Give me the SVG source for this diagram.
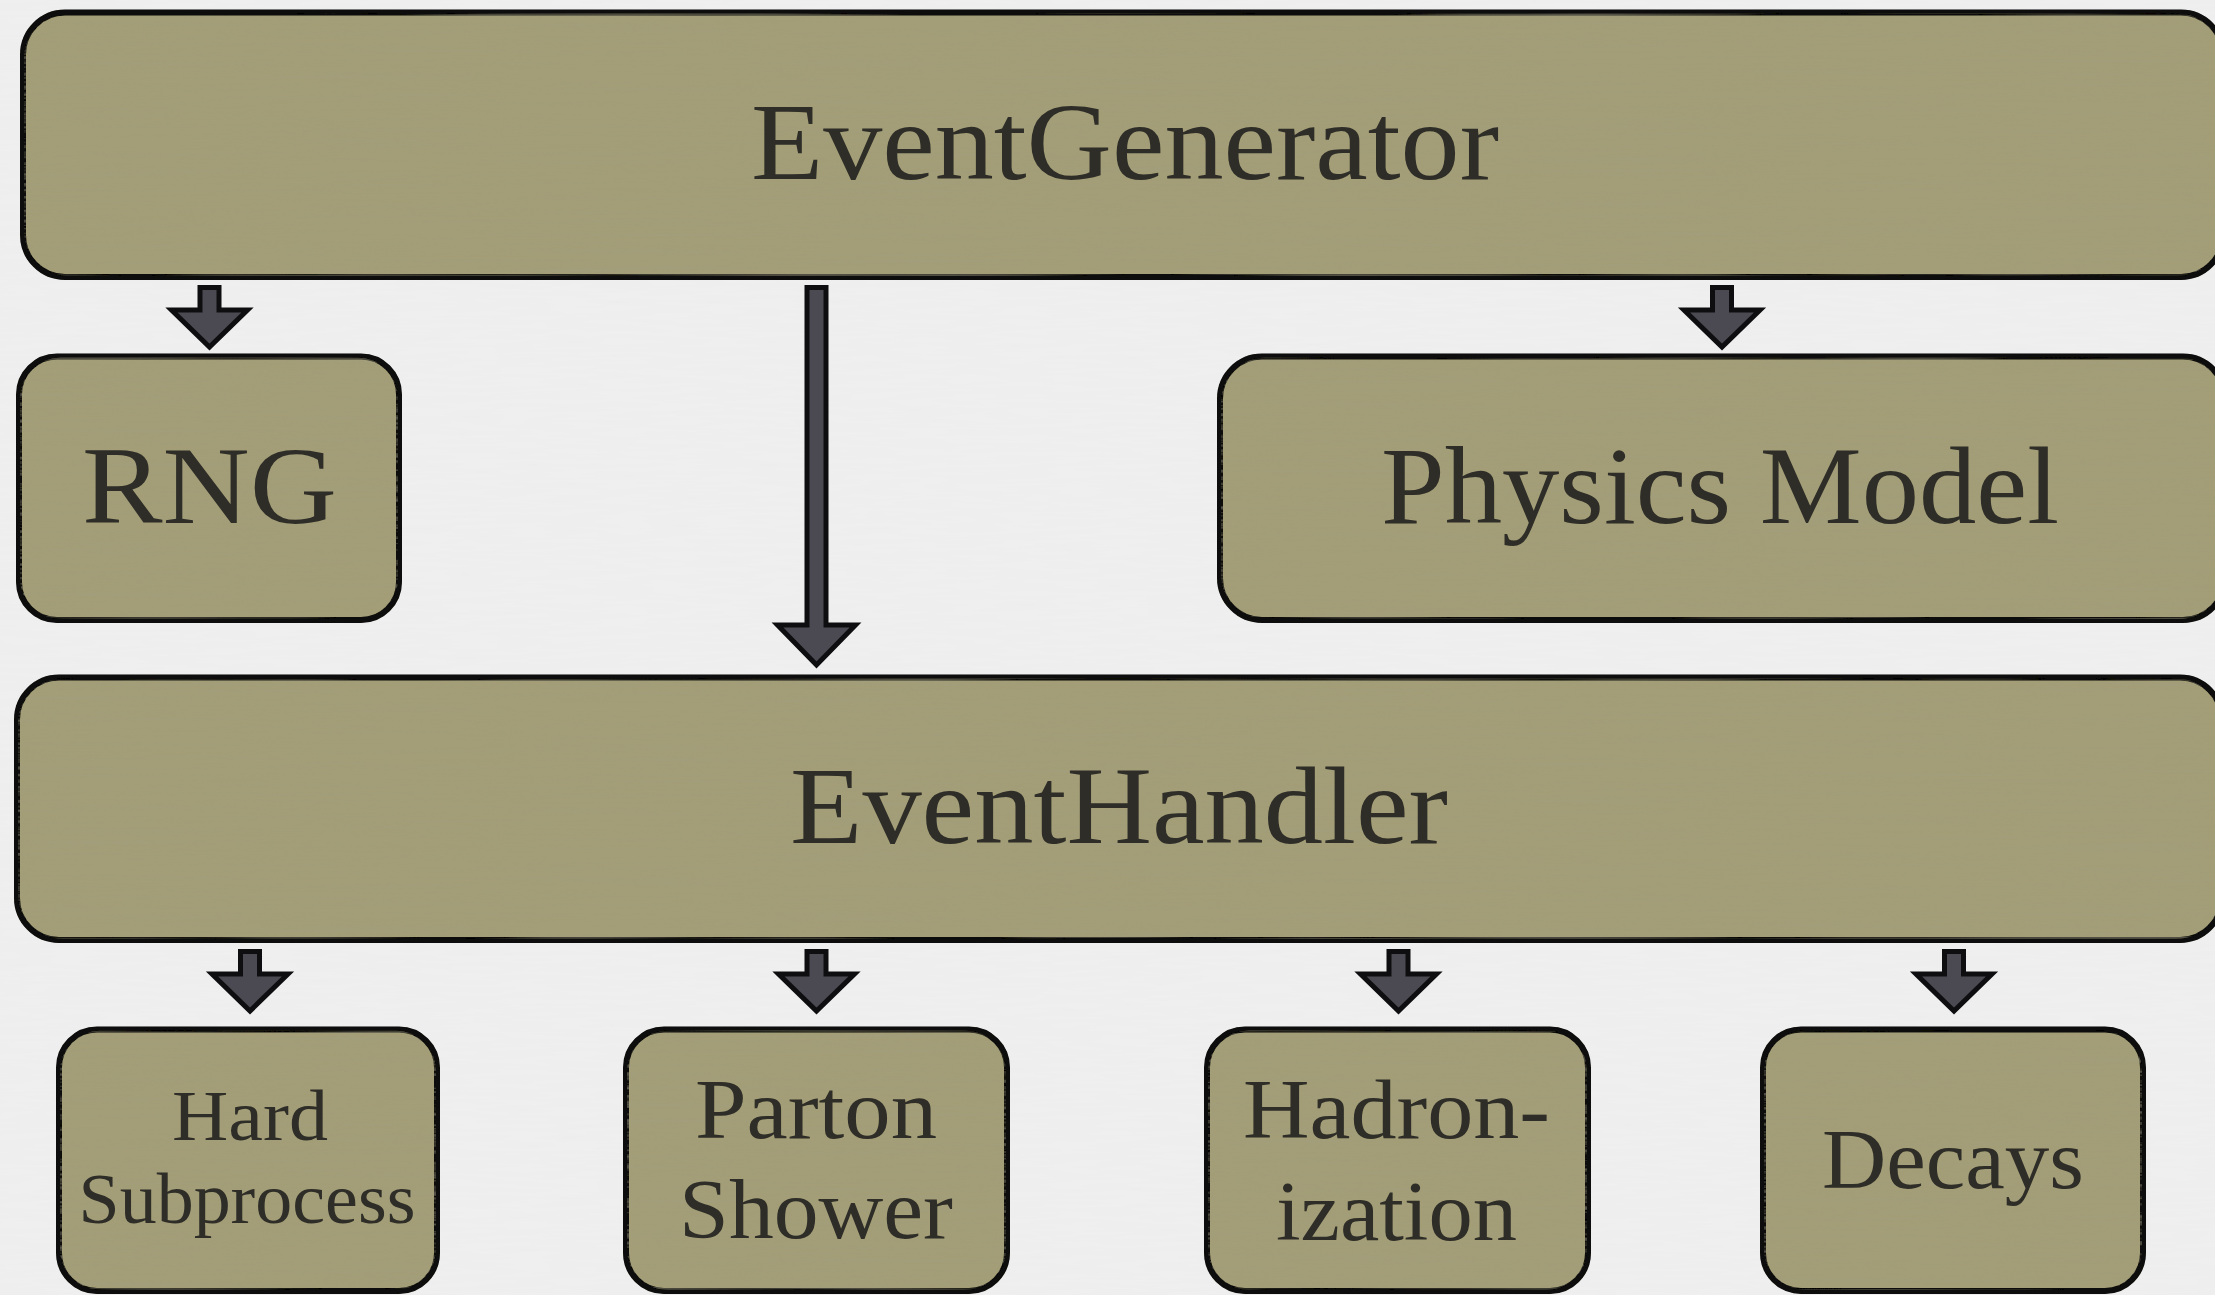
<svg xmlns="http://www.w3.org/2000/svg" xmlns:xlink="http://www.w3.org/1999/xlink" width="2215" height="1295" viewBox="0 0 2215 1295">
  <style>
    .box { fill: #a39e77; stroke: #080807; stroke-width: 6; filter: url(#brushed); }
    .label { font-family: "Liberation Serif", "DejaVu Serif", serif; fill: #2e2d27; text-anchor: middle; }
    .big { font-size: 110px; }
    .mid { font-size: 85px; }
    .small { font-size: 71px; }
    .arrow { fill: #4b4a52; stroke: #0e0e10; stroke-width: 5; stroke-linejoin: miter; }
  </style>
  <defs>
    <!-- faint horizontal streaks over the box fill, kept off the outline -->
    <filter id="brushed" filterUnits="userSpaceOnUse" x="-20" y="-20" width="2260" height="1340">
      <feTurbulence type="fractalNoise" baseFrequency="0.004 0.3" numOctaves="2" seed="4" result="n"/>
      <feColorMatrix in="n" type="matrix" values="0 0 0 0 0.36  0 0 0 0 0.34  0 0 0 0 0.24  0.7 0 0 0 -0.3" result="tint"/>
      <feMorphology in="SourceAlpha" operator="erode" radius="4" result="inner"/>
      <feComposite in="tint" in2="inner" operator="in" result="t"/>
      <feMerge><feMergeNode in="SourceGraphic"/><feMergeNode in="t"/></feMerge>
    </filter>
    <!-- paper grain for the page -->
    <filter id="paper" x="0" y="0" width="100%" height="100%">
      <feTurbulence type="fractalNoise" baseFrequency="0.02 0.25" numOctaves="2" seed="9" result="n"/>
      <feColorMatrix in="n" type="matrix" values="0 0 0 0 0.8  0 0 0 0 0.8  0 0 0 0 0.8  0.6 0 0 0 -0.25" result="g"/>
      <feMerge><feMergeNode in="SourceGraphic"/><feMergeNode in="g"/></feMerge>
    </filter>
    <!-- short block arrow, origin at top centre of the shaft -->
    <path id="shortArrow" class="arrow" d="M -9.5,2.5 H 9.5 V 25 H 38 L 0,62 L -38,25 H -9.5 Z"/>
  </defs>

  <rect x="0" y="0" width="2215" height="1295" fill="#efefef" filter="url(#paper)"/>

  <g id="connectors">
    <use xlink:href="#shortArrow" transform="translate(209.5,285)"/>
    <path class="arrow" d="M -9.5,2.5 H 9.5 V 340 H 39 L 0,380 L -39,340 H -9.5 Z" transform="translate(816.5,285)"/>
    <use xlink:href="#shortArrow" transform="translate(1722,285)"/>
    <use xlink:href="#shortArrow" transform="translate(250,949)"/>
    <use xlink:href="#shortArrow" transform="translate(816.5,949)"/>
    <use xlink:href="#shortArrow" transform="translate(1398.5,949)"/>
    <use xlink:href="#shortArrow" transform="translate(1954,949)"/>
  </g>

  <g id="event-generator">
    <rect class="box" x="23" y="12.5" width="2200" height="264.5" rx="42" ry="42"/>
    <text class="label big" x="1125" y="179" textLength="748" lengthAdjust="spacingAndGlyphs">EventGenerator</text>
  </g>

  <g id="rng">
    <rect class="box" x="19" y="356.5" width="380" height="263.5" rx="38" ry="38"/>
    <text class="label big" x="209.5" y="523" textLength="255" lengthAdjust="spacingAndGlyphs">RNG</text>
  </g>

  <g id="physics-model">
    <rect class="box" x="1220" y="356.5" width="1005" height="263.5" rx="42" ry="42"/>
    <text class="label big" x="1720" y="523" textLength="678" lengthAdjust="spacingAndGlyphs">Physics Model</text>
  </g>

  <g id="event-handler">
    <rect class="box" x="17" y="677.5" width="2205" height="262.5" rx="42" ry="42"/>
    <text class="label big" x="1119" y="843" textLength="658" lengthAdjust="spacingAndGlyphs">EventHandler</text>
  </g>

  <g id="hard-subprocess">
    <rect class="box" x="59" y="1029.5" width="378" height="261.5" rx="38" ry="38"/>
    <text class="label small" x="250" y="1140" textLength="156" lengthAdjust="spacingAndGlyphs">Hard</text>
    <text class="label small" x="247" y="1223" textLength="337" lengthAdjust="spacingAndGlyphs">Subprocess</text>
  </g>

  <g id="parton-shower">
    <rect class="box" x="626" y="1029.5" width="381" height="261.5" rx="38" ry="38"/>
    <text class="label mid" x="816" y="1138" textLength="242" lengthAdjust="spacingAndGlyphs">Parton</text>
    <text class="label mid" x="816" y="1238" textLength="274" lengthAdjust="spacingAndGlyphs">Shower</text>
  </g>

  <g id="hadronization">
    <rect class="box" x="1207" y="1029.5" width="381" height="261.5" rx="38" ry="38"/>
    <text class="label mid" x="1396.5" y="1138" textLength="307" lengthAdjust="spacingAndGlyphs">Hadron-</text>
    <text class="label mid" x="1396.5" y="1240" textLength="241" lengthAdjust="spacingAndGlyphs">ization</text>
  </g>

  <g id="decays">
    <rect class="box" x="1763" y="1029.5" width="380" height="261.5" rx="38" ry="38"/>
    <text class="label mid" x="1953" y="1188" textLength="262" lengthAdjust="spacingAndGlyphs">Decays</text>
  </g>
</svg>
